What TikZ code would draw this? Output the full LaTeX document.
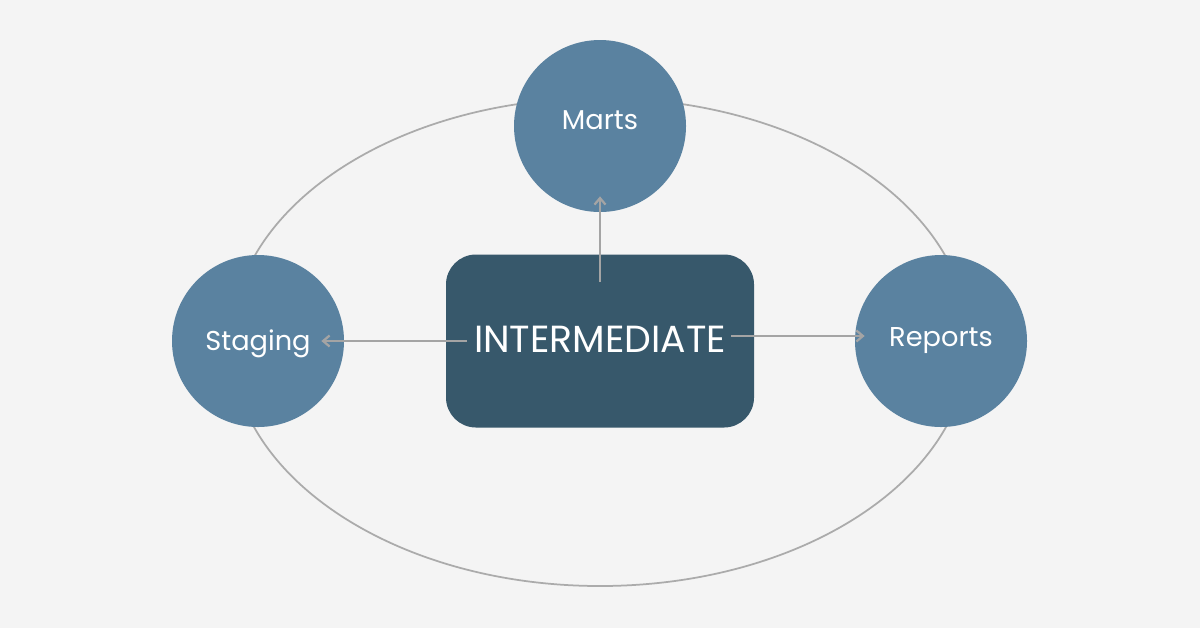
\documentclass[tikz,border=0pt]{standalone}
\usepackage{fontspec}
\setmainfont{Poppins}
\usetikzlibrary{arrows.meta, positioning, calc}
\definecolor{paper}{HTML}{F4F4F4}
\definecolor{layerblue}{HTML}{5A82A0}
\definecolor{deepslate}{HTML}{37586B}
\definecolor{wire}{HTML}{A4A4A4}
\definecolor{orbit}{HTML}{ABABAB}

% text sitting on a baseline below the node centre
\newcommand{\lowtext}[2]{\raisebox{-#1}[0pt][0pt]{#2}}

\begin{document}
\begin{tikzpicture}[
  x=0.2mm, y=-0.2mm,
  >={Straight Barb[length=1.3mm, width=2.2mm]},
  layer/.style={
    circle, fill=layerblue, minimum size=34.4mm, inner sep=0pt,
    font=\fontsize{15.5}{18}\selectfont, text=white
  },
  hub/.style={
    fill=deepslate, rounded corners=6mm, minimum width=61.6mm,
    minimum height=34.6mm, inner sep=0pt,
    font=\fontsize{21.5}{24}\selectfont, text=white
  },
  arr/.style={->, line width=0.45mm, wire},
  ring/.style={line width=0.35mm, orbit},
]

% Background
\fill[paper] (0,0) rectangle (1200,628);
\useasboundingbox (0,0) rectangle (1200,628);

% Orbit behind the layers
\draw[ring] (600,342) ellipse [x radius=7.38cm, y radius=4.88cm];

% =============================================
% Layers
% =============================================
\node[layer] (marts) at (600,126) {\lowtext{0.6mm}{Marts}};
\node[layer] (staging) at (258,341) {\lowtext{1.8mm}{Staging}};
\node[layer] (reports) at (941,341) {\lowtext{1mm}{Reports}};

% Centre box
\node[hub] (inter) at (600,341) {\lowtext{2.2mm}{INTERMEDIATE}};

% Arrows out of the centre
\draw[arr] ([yshift=-5.6mm]inter.north) -- ([yshift=3.2mm]marts.south);
\draw[arr] ([xshift=4.2mm]inter.west) -- ([xshift=-4.6mm]staging.east);
\draw[arr] ([xshift=-4.6mm, yshift=1mm]inter.east) -- ([xshift=2mm, yshift=1mm]reports.west);

\end{tikzpicture}
\end{document}
